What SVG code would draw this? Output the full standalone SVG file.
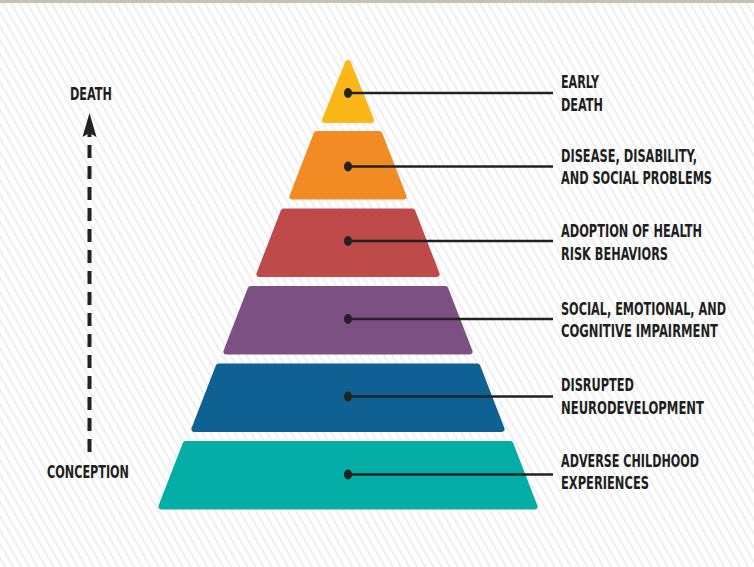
<svg xmlns="http://www.w3.org/2000/svg" width="754" height="567" viewBox="0 0 754 567">
  <defs>
    <pattern id="stripes" patternUnits="userSpaceOnUse" width="7" height="7" patternTransform="rotate(-30)">
      <line x1="1" y1="-1" x2="1" y2="8" stroke="#e6e6e6" stroke-width="1.3"/>
    </pattern>
  </defs>
  <style>
    .lvl { stroke-width: 6; stroke-linejoin: round; }
    .lbl { font-family: "DejaVu Sans", "Liberation Sans", sans-serif; font-weight: bold; font-stretch: condensed; font-size: 17px; fill: #1e1e1e; }
    .lead { stroke: #222; stroke-width: 2.5; fill: none; }
    .dot { fill: #222; }
  </style>

  <rect x="0" y="0" width="754" height="567" fill="#ffffff"/>
  <rect x="0" y="0" width="754" height="567" fill="url(#stripes)"/>
  <rect x="0" y="0" width="754" height="3" fill="#c9bfb4"/>

  <g id="timeline">
    <line x1="89.5" y1="452" x2="89.5" y2="117" stroke="#222" stroke-width="4" stroke-dasharray="13 8"/>
    <path d="M89.5,113 L96.5,137 L89.5,133 L82.5,137 Z" fill="#222"/>
    <text class="lbl" x="70" y="100" textLength="42" lengthAdjust="spacingAndGlyphs">DEATH</text>
    <text class="lbl" x="47" y="478" textLength="82" lengthAdjust="spacingAndGlyphs">CONCEPTION</text>
  </g>

  <g id="level-early-death">
    <polygon class="lvl" fill="#FBB617" stroke="#FBB617" points="348,63 371,120 325,120"/>
    <text class="lbl" x="561" y="88" textLength="38" lengthAdjust="spacingAndGlyphs">EARLY</text>
    <text class="lbl" x="561" y="111" textLength="42" lengthAdjust="spacingAndGlyphs">DEATH</text>
  </g>
  <g id="level-disease">
    <polygon class="lvl" fill="#F28B24" stroke="#F28B24" points="316.6,134 379.4,134 403.6,196.5 292.4,196.5"/>
    <text class="lbl" x="561" y="162" textLength="136" lengthAdjust="spacingAndGlyphs">DISEASE, DISABILITY,</text>
    <text class="lbl" x="561" y="184" textLength="151" lengthAdjust="spacingAndGlyphs">AND SOCIAL PROBLEMS</text>
  </g>
  <g id="level-adoption">
    <polygon class="lvl" fill="#BF4A4A" stroke="#BF4A4A" points="283.6,211.5 412.4,211.5 436.6,274 259.4,274"/>
    <text class="lbl" x="561" y="237" textLength="141" lengthAdjust="spacingAndGlyphs">ADOPTION OF HEALTH</text>
    <text class="lbl" x="561" y="260" textLength="107" lengthAdjust="spacingAndGlyphs">RISK BEHAVIORS</text>
  </g>
  <g id="level-social">
    <polygon class="lvl" fill="#7C5083" stroke="#7C5083" points="250.6,289 445.4,289 469.6,351.5 226.4,351.5"/>
    <text class="lbl" x="561" y="315" textLength="165" lengthAdjust="spacingAndGlyphs">SOCIAL, EMOTIONAL, AND</text>
    <text class="lbl" x="561" y="337" textLength="157" lengthAdjust="spacingAndGlyphs">COGNITIVE IMPAIRMENT</text>
  </g>
  <g id="level-neuro">
    <polygon class="lvl" fill="#0F6093" stroke="#0F6093" points="218.6,366.5 477.4,366.5 501.6,429 194.4,429"/>
    <text class="lbl" x="561" y="391" textLength="73" lengthAdjust="spacingAndGlyphs">DISRUPTED</text>
    <text class="lbl" x="561" y="414" textLength="143" lengthAdjust="spacingAndGlyphs">NEURODEVELOPMENT</text>
  </g>
  <g id="level-ace">
    <polygon class="lvl" fill="#04ADA5" stroke="#04ADA5" points="185.6,444 510.4,444 534.6,506.5 161.4,506.5"/>
    <text class="lbl" x="561" y="467" textLength="138" lengthAdjust="spacingAndGlyphs">ADVERSE CHILDHOOD</text>
    <text class="lbl" x="561" y="489" textLength="88" lengthAdjust="spacingAndGlyphs">EXPERIENCES</text>
  </g>

  <g id="connectors">
    <line class="lead" x1="348" y1="93" x2="553" y2="93"/>
    <line class="lead" x1="348" y1="166.5" x2="553" y2="166.5"/>
    <line class="lead" x1="348" y1="241" x2="553" y2="241"/>
    <line class="lead" x1="348" y1="319" x2="553" y2="319"/>
    <line class="lead" x1="348" y1="396.5" x2="553" y2="396.5"/>
    <line class="lead" x1="348" y1="474.5" x2="553" y2="474.5"/>
    <ellipse class="dot" cx="348" cy="93" rx="4" ry="5"/>
    <ellipse class="dot" cx="348" cy="166.5" rx="4" ry="5"/>
    <ellipse class="dot" cx="348" cy="241" rx="4" ry="5"/>
    <ellipse class="dot" cx="348" cy="319" rx="4" ry="5"/>
    <ellipse class="dot" cx="348" cy="396.5" rx="4" ry="5"/>
    <ellipse class="dot" cx="348" cy="474.5" rx="4" ry="5"/>
  </g>
</svg>
